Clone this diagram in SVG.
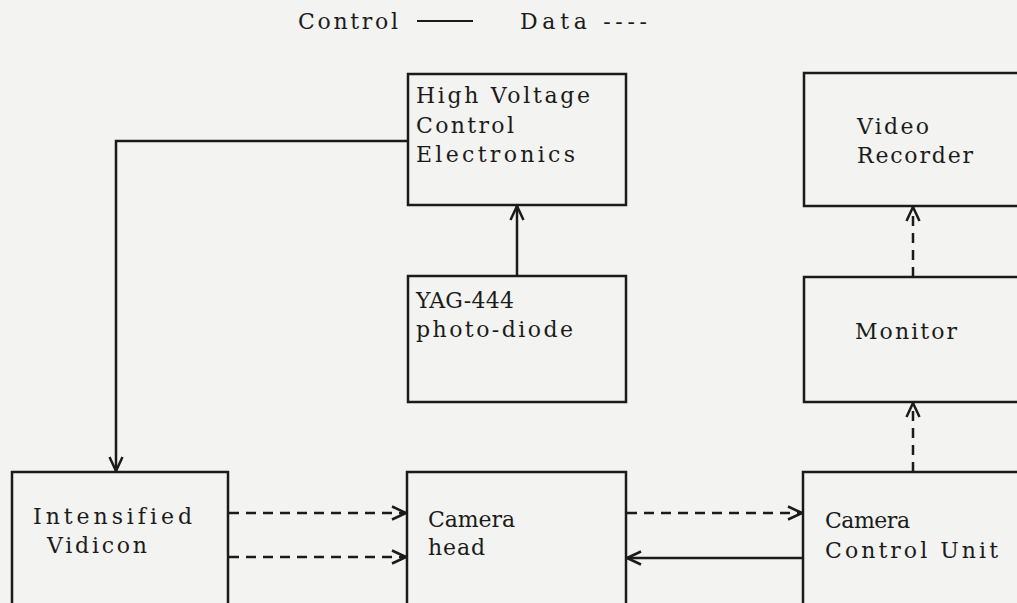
<svg xmlns="http://www.w3.org/2000/svg" width="1017" height="603" viewBox="0 0 1017 603">
<style>
.bg{fill:#f3f3f1}
.box{fill:none;stroke:#1b1b1b;stroke-width:2.5}
.t{font-family:"DejaVu Serif","Liberation Serif",serif;font-size:22px;fill:#1b1b1b;font-variant-ligatures:none;font-feature-settings:"liga" 0}
.c{fill:none;stroke:#1b1b1b;stroke-width:2.5}
.d{fill:none;stroke:#1b1b1b;stroke-width:2.5;stroke-dasharray:10 7}
</style>
<defs>
<marker id="ah" viewBox="0 0 16 16" refX="15" refY="8" markerWidth="16" markerHeight="16" markerUnits="userSpaceOnUse" orient="auto">
<path d="M1,1.5 L15,8 L1,14.5" fill="none" stroke="#1b1b1b" stroke-width="2.5"/>
</marker>
</defs>
<rect class="bg" x="0" y="0" width="1017" height="603"/>
<g id="legend">
<text class="t" x="298" y="29" textLength="100" lengthAdjust="spacing">Control</text>
<line x1="417" y1="21" x2="473" y2="21" stroke="#1b1b1b" stroke-width="2"/>
<text class="t" x="520" y="29" textLength="127" lengthAdjust="spacing">Data ----</text>
</g>
<g id="hv">
<rect class="box" x="408" y="74" width="218" height="131"/>
<text class="t" x="416" y="103" textLength="174" lengthAdjust="spacing">High Voltage</text>
<text class="t" x="416" y="133" textLength="98" lengthAdjust="spacing">Control</text>
<text class="t" x="416" y="162" textLength="159" lengthAdjust="spacing">Electronics</text>
</g>
<g id="yag">
<rect class="box" x="408" y="276" width="218" height="126"/>
<text class="t" x="416" y="308" textLength="98" lengthAdjust="spacing">YAG-444</text>
<text class="t" x="416" y="337" textLength="157" lengthAdjust="spacing">photo-diode</text>
</g>
<g id="vr">
<rect class="box" x="804" y="73" width="240" height="133"/>
<text class="t" x="857" y="134" textLength="72" lengthAdjust="spacing">Video</text>
<text class="t" x="857" y="163" textLength="116" lengthAdjust="spacing">Recorder</text>
</g>
<g id="monitor">
<rect class="box" x="804" y="277" width="240" height="125"/>
<text class="t" x="855" y="339" textLength="102" lengthAdjust="spacing">Monitor</text>
</g>
<g id="vidicon">
<rect class="box" x="12" y="472" width="216" height="150"/>
<text class="t" x="33" y="524" textLength="159" lengthAdjust="spacing">Intensified</text>
<text class="t" x="47" y="553" textLength="100" lengthAdjust="spacing">Vidicon</text>
</g>
<g id="camhead">
<rect class="box" x="407" y="472" width="219" height="150"/>
<text class="t" x="428" y="527" textLength="87" lengthAdjust="spacing">Camera</text>
<text class="t" x="428" y="555" textLength="57" lengthAdjust="spacing">head</text>
</g>
<g id="ccu">
<rect class="box" x="803" y="472" width="240" height="150"/>
<text class="t" x="825" y="528" textLength="85" lengthAdjust="spacing">Camera</text>
<text class="t" x="825" y="558" textLength="173" lengthAdjust="spacing">Control Unit</text>
</g>
<g id="connectors">
<path class="c" d="M408,141 L116,141 L116,471" marker-end="url(#ah)"/>
<path class="c" d="M517,276 L517,206" marker-end="url(#ah)"/>
<path class="d" d="M229,513 L406,513" marker-end="url(#ah)"/>
<path class="d" d="M229,557 L406,557" marker-end="url(#ah)"/>
<path class="d" d="M627,513 L802,513" marker-end="url(#ah)"/>
<path class="c" d="M803,558 L627,558" marker-end="url(#ah)"/>
<path class="d" d="M913,472 L913,403" marker-end="url(#ah)"/>
<path class="d" d="M913,277 L913,207" marker-end="url(#ah)"/>
</g>
</svg>
